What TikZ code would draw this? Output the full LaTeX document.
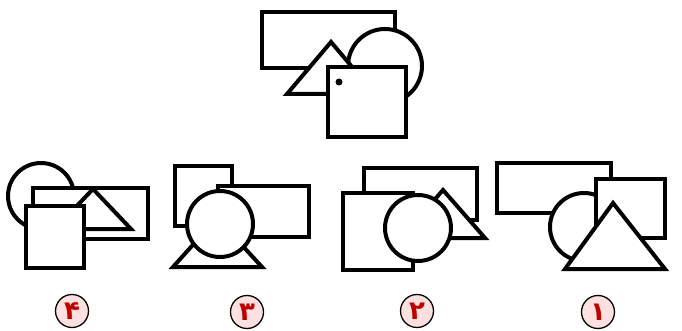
\documentclass[tikz,border=0pt]{standalone}
\usepackage{fontspec}
\newfontfamily\arabicfont[Script=Arabic]{DejaVu Sans}
\begin{document}
\begin{tikzpicture}[x=1pt,y=-1pt,
  shp/.style={draw=black,fill=white,line width=4pt,line join=miter},
  lab/.style={circle,draw=black,line width=1.3pt,fill=red!12,inner sep=0pt,minimum size=33pt,text=red!75!black,font=\arabicfont\bfseries\fontsize{26}{26}\selectfont}]
\useasboundingbox (0,0) rectangle (682,331);
% top figure
\draw[shp] (262,12) rectangle (395,68);
\draw[shp] (385,66) circle[radius=37pt];
\draw[shp] (331,42) -- (375,94) -- (287,94) -- cycle;
\draw[shp] (328,67) rectangle (406,137);
\fill (339,82) circle[radius=3.5pt];
% option 4
\draw[shp] (41,196) circle[radius=33pt];
\draw[shp] (33,188) rectangle (148,239);
\draw[shp] (93,189) -- (131,229) -- (55,229) -- cycle;
\draw[shp] (26,206) rectangle (84,268);
% option 3
\draw[shp] (175,166) rectangle (232,226);
\draw[shp] (218,186) rectangle (309,237);
\draw[shp] (217,218) -- (262,267) -- (173,267) -- cycle;
\draw[shp] (220,224) circle[radius=33pt];
% option 2
\draw[shp] (364,168) rectangle (477,220);
\draw[shp] (343,193) rectangle (413,270);
\draw[shp] (443,190) -- (485,238) -- (401,238) -- cycle;
\draw[shp] (418,228) circle[radius=33pt];
% option 1
\draw[shp] (497,163) rectangle (611,213);
\draw[shp] (584,227) circle[radius=34pt];
\draw[shp] (596,179) rectangle (665,238);
\draw[shp] (613,203) -- (665,269) -- (565,269) -- cycle;
% labels
\node[lab] (l4) at (72,311) {۴};
\node[lab] (l3) at (247,312) {۳};
\node[lab] (l2) at (417,311) {۲};
\node[lab] (l1) at (598,312) {۱};
\end{tikzpicture}
\end{document}
